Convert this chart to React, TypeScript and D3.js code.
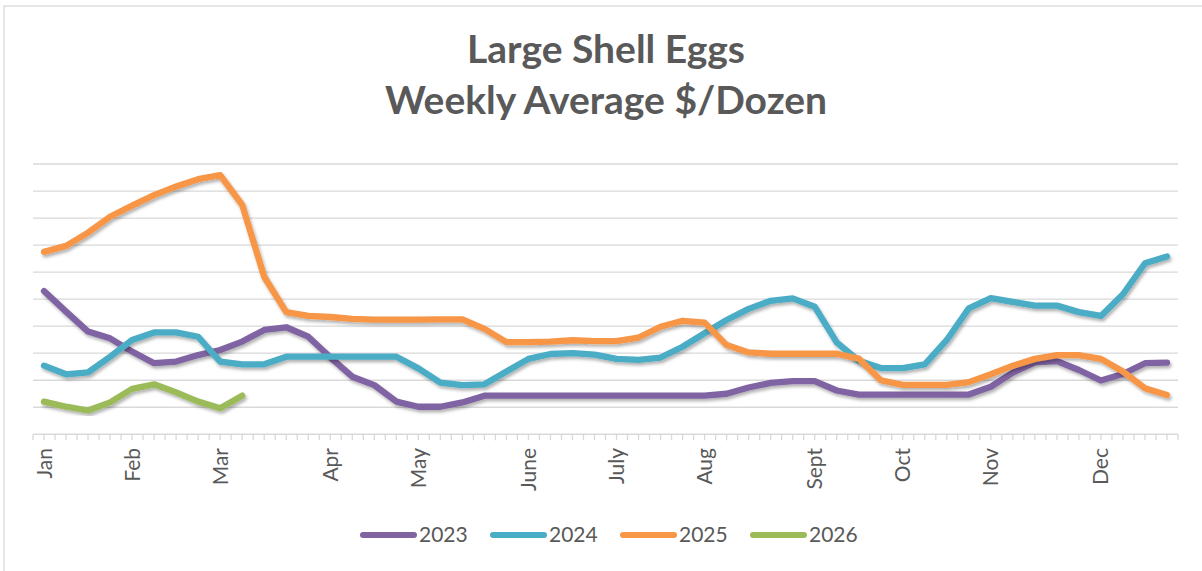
import React from 'react';
import * as d3 from 'd3';

// Category labels (52 weeks; month names on the week where each month starts)
const categoryLabels: string[] = [
  'Jan', '', '', '', 'Feb', '', '', '', 'Mar', '', '', '', '', 'Apr', '', '', '', 'May', '', '', '', '',
  'June', '', '', '', 'July', '', '', '', 'Aug', '', '', '', '', 'Sept', '', '', '', 'Oct', '', '', '',
  'Nov', '', '', '', '', 'Dec', '', '', '',
];

const seriesNames = ['2023', '2024', '2025', '2026'];
const seriesColors = ['#8064A2', '#4BACC6', '#F79646', '#9BBB59'];

const values2023 = [
  5.30, 4.54, 3.80, 3.55, 3.06, 2.63, 2.69, 2.93, 3.12, 3.43, 3.86, 3.96, 3.61,
  2.85, 2.13, 1.82, 1.21, 1.02, 1.02, 1.18, 1.43,
  1.43, 1.43, 1.43, 1.43, 1.43, 1.43, 1.43, 1.43, 1.43, 1.43,
  1.50, 1.73, 1.90, 1.97, 1.97, 1.62, 1.47,
  1.47, 1.47, 1.47, 1.47, 1.47,
  1.76, 2.28, 2.66, 2.71, 2.38, 1.99, 2.23, 2.63, 2.65,
];
const values2024 = [
  2.54, 2.22, 2.29, 2.87, 3.49, 3.77, 3.77, 3.61, 2.69, 2.59,
  2.59, 2.87, 2.87, 2.87, 2.87, 2.87, 2.87, 2.44, 1.91, 1.82,
  1.85, 2.32, 2.79, 2.97, 3.00, 2.95, 2.79, 2.75, 2.84, 3.24,
  3.74, 4.23, 4.64, 4.94, 5.03, 4.72, 3.40, 2.72, 2.45, 2.45,
  2.59, 3.49, 4.66, 5.04, 4.90, 4.76, 4.76, 4.52, 4.38, 5.18, 6.33, 6.58,
];
const values2025 = [
  6.75, 6.97, 7.46, 8.05, 8.46, 8.85, 9.17, 9.44, 9.59, 8.49,
  5.83, 4.52, 4.38, 4.34, 4.27, 4.24, 4.24, 4.24, 4.25, 4.25,
  3.90, 3.41, 3.41, 3.43, 3.48, 3.45, 3.45, 3.58, 3.98, 4.20,
  4.13, 3.30, 3.03, 2.98, 2.98, 2.98, 2.98, 2.80, 2.00, 1.83,
  1.83, 1.83, 1.93, 2.22, 2.54, 2.79, 2.93, 2.93, 2.79, 2.32, 1.70, 1.45,
];
const values2026 = [1.21, 1.02, 0.88, 1.18, 1.68, 1.85, 1.55, 1.21, 0.96, 1.43];

const yTicks = [1, 2, 3, 4, 5, 6, 7, 8, 9, 10];

const allSeries = [values2023, values2024, values2025, values2026];

const W = 1202;
const H = 571;
const FONT = 'Lato, "Open Sans", sans-serif';
const TEXT = '#595959';
const GRID = '#d9d9d9';

export default function App() {
  const x = d3
    .scaleBand<number>()
    .domain(categoryLabels.map((_, i) => i))
    .range([33, 1178])
    .paddingInner(0)
    .paddingOuter(0);
  const bw = x.bandwidth();
  const cx = (i: number) => (x(i) as number) + bw / 2;
  const y = d3.scaleLinear().domain([0, 10]).range([434.3, 164]);

  const line = d3
    .line<number>()
    .x((_, i) => cx(i))
    .y((d) => y(d));

  // tick marks at band edges and mid-bands
  const tickXs: number[] = [];
  categoryLabels.forEach((_, i) => {
    tickXs.push(x(i) as number);
    tickXs.push((x(i) as number) + bw / 2);
  });
  tickXs.push(x.range()[1]);

  const legendStride = 130;
  const legendStart = 360;

  return (
    <svg
      width={W}
      height={H}
      style={{ position: 'absolute', left: 0, top: 0, background: '#fff' }}
      fontFamily={FONT}
    >
      <defs>
        <filter id="shadow" x="-5%" y="-10%" width="110%" height="130%">
          <feDropShadow dx="1.5" dy="2.5" stdDeviation="1.6" floodColor="#000" floodOpacity="0.3" />
        </filter>
      </defs>
      <rect x={0} y={0} width={W} height={H} fill="#fff" />
      {/* chart frame */}
      <rect x={4} y={6} width={W + 20} height={H + 20} fill="none" stroke={GRID} strokeWidth={1.3} />

      {/* Title */}
      <text x={606} y={63} textAnchor="middle" fontSize={39} fontWeight={700} fill={TEXT}>
        Large Shell Eggs
      </text>
      <text x={606} y={114} textAnchor="middle" fontSize={39} fontWeight={700} fill={TEXT}>
        Weekly Average $/Dozen
      </text>

      {/* gridlines */}
      {yTicks.map((t) => (
        <line key={t} x1={33} x2={1178} y1={y(t)} y2={y(t)} stroke={GRID} strokeWidth={1.3} />
      ))}

      {/* x axis */}
      <line x1={33} x2={1178} y1={y(0)} y2={y(0)} stroke={GRID} strokeWidth={1.5} />
      {tickXs.map((tx, i) => (
        <line key={i} x1={tx} x2={tx} y1={y(0)} y2={y(0) + 6} stroke={GRID} strokeWidth={1.3} />
      ))}
      {categoryLabels.map((lab, i) =>
        lab ? (
          <text
            key={i}
            transform={`translate(${cx(i)},448) rotate(-90)`}
            textAnchor="end"
            dy="0.36em"
            fontSize={21}
            fill={TEXT}
          >
            {lab}
          </text>
        ) : null
      )}

      {/* lines */}
      {allSeries.map((s, k) => (
        <path
          key={k}
          d={line(s) || ''}
          fill="none"
          stroke={seriesColors[k]}
          strokeWidth={6.3}
          strokeLinejoin="round"
          strokeLinecap="round"
          filter="url(#shadow)"
        />
      ))}

      {/* legend */}
      {seriesNames.map((n, k) => {
        const lx = legendStart + k * legendStride;
        return (
          <g key={n}>
            <line x1={lx + 3} x2={lx + 54} y1={535} y2={535} stroke={seriesColors[k]} strokeWidth={6} strokeLinecap="round" />
            <text x={lx + 59} y={535} dy="0.35em" fontSize={21} fill={TEXT}>
              {n}
            </text>
          </g>
        );
      })}
    </svg>
  );
}
